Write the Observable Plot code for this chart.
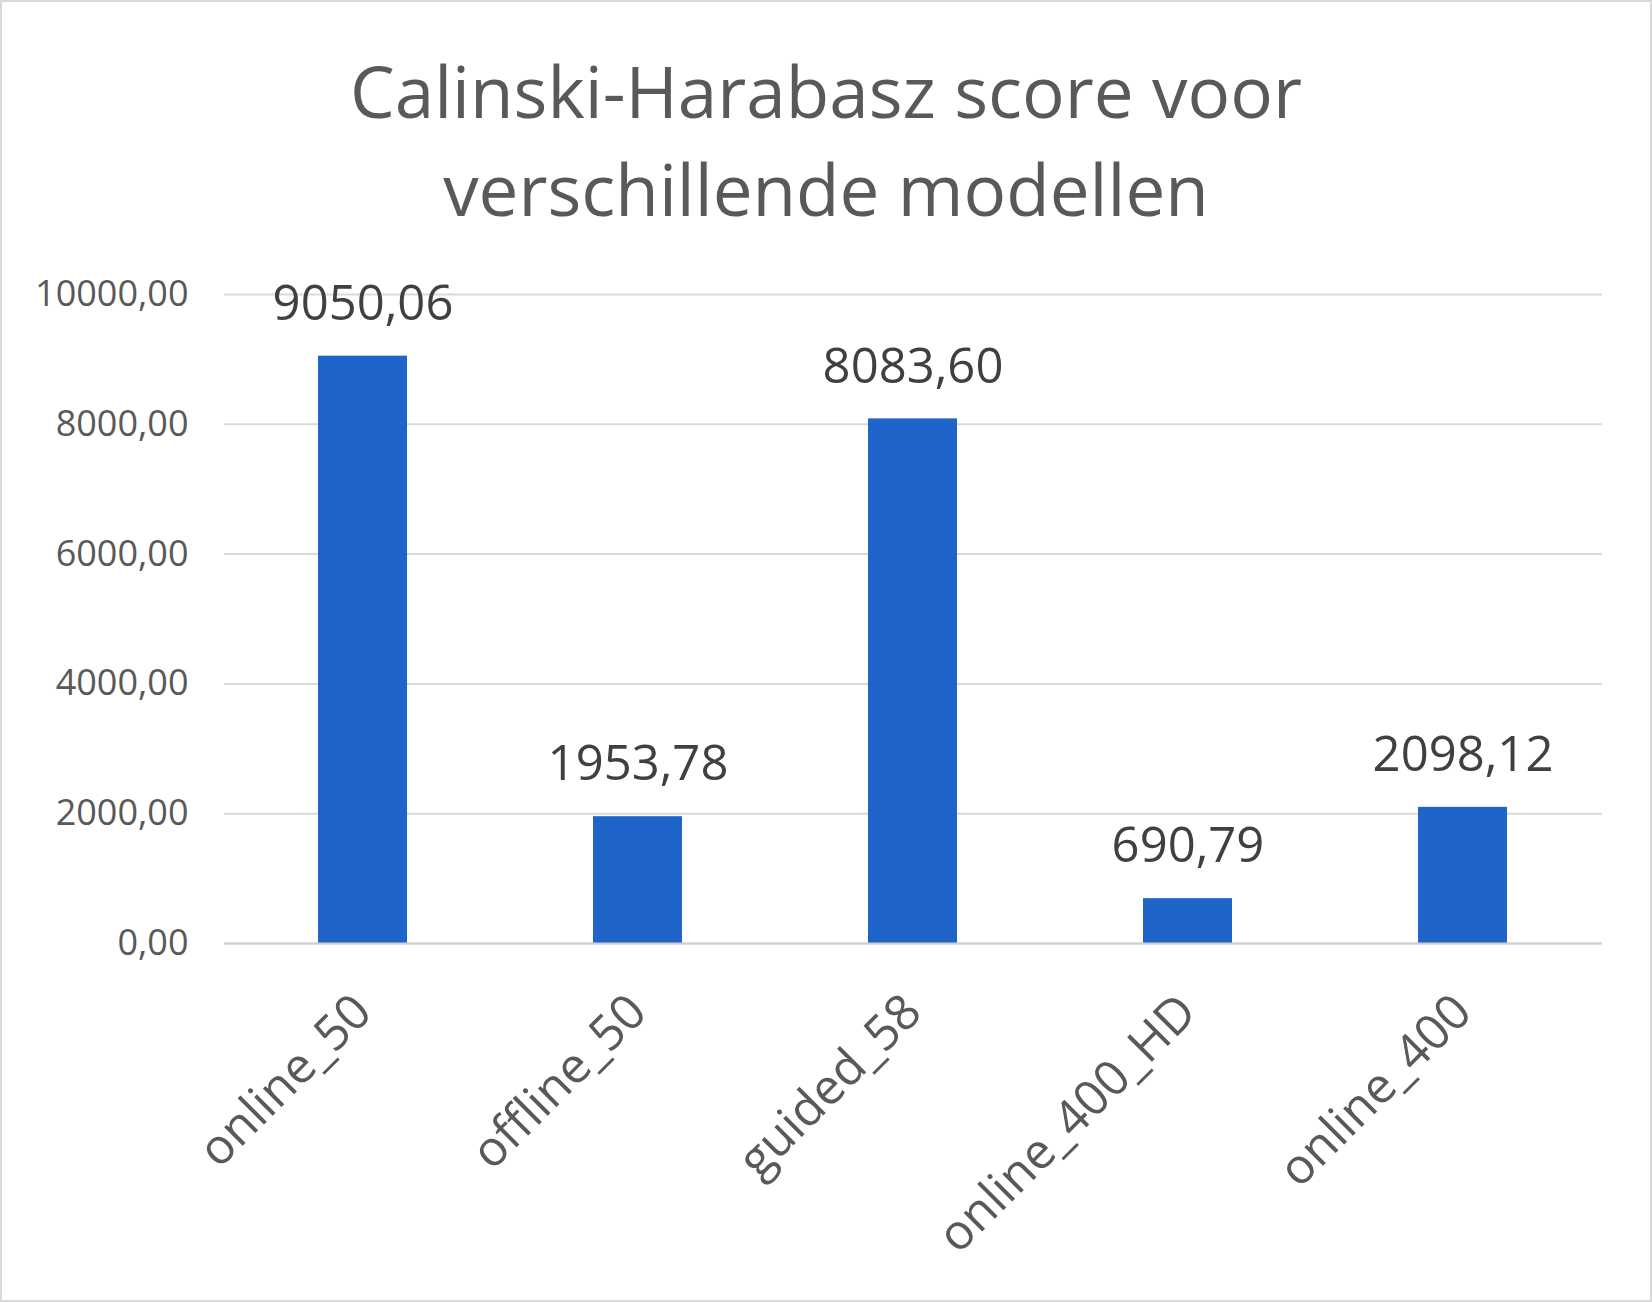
<!DOCTYPE html>
<html>
<head>
<meta charset="utf-8">
<script src="https://cdn.jsdelivr.net/npm/d3@7"></script>
<script src="https://cdn.jsdelivr.net/npm/@observablehq/plot@0.6"></script>
<style>
  body { margin: 0; background: #fff; }
  #frame { width: 1652px; height: 1302px; box-sizing: border-box; border: 2px solid #d9d9d9; font-family: "Open Sans", sans-serif; }
  #title { height: 248px; box-sizing: border-box; padding-top: 40px; text-align: center; color: #595959; font-size: 71px; line-height: 98px; }
</style>
</head>
<body>
<div id="frame">
  <div id="title">Calinski-Harabasz score voor<br>verschillende modellen</div>
  <div id="chart"></div>
</div>
<script>
const models = ['online_50', 'offline_50', 'guided_58', 'online_400_HD', 'online_400']
const scores = [9050.06, 1953.78, 8083.60, 690.79, 2098.12]
const yTicks = [0, 2000, 4000, 6000, 8000, 10000]

const data = models.map((m, i) => ({model: m, score: scores[i]}))
const fmt = v => v.toFixed(2).replace('.', ',')

const chart = Plot.plot({
  width: 1648,
  height: 1050,
  marginTop: 44,
  marginBottom: 357,
  marginLeft: 222,
  marginRight: 48,
  style: {fontFamily: '"Open Sans", sans-serif', color: '#595959', background: 'white'},
  x: {domain: models, paddingInner: 0.675, paddingOuter: 0.3375, label: null},
  y: {domain: [0, 10000], label: null},
  marks: [
    Plot.gridY(yTicks, {stroke: '#d9d9d9', strokeOpacity: 1, strokeWidth: 2}),
    Plot.barY(data, {x: 'model', y: 'score', fill: '#1f64c8'}),
    Plot.ruleY([0], {stroke: '#d0d0d0', strokeWidth: 2}),
    Plot.text(data, {x: 'model', y: 'score', text: d => fmt(d.score), dy: -52, fontSize: 49, fill: '#404040'}),
    Plot.axisY({ticks: yTicks, tickFormat: fmt, tickSize: 0, tickPadding: 36, fontSize: 36, label: null}),
    Plot.axisX({tickSize: 0, tickRotate: -45, fontSize: 49, tickPadding: 60, label: null})
  ]
})
d3.select('#chart').append(() => chart)
</script>
</body>
</html>
